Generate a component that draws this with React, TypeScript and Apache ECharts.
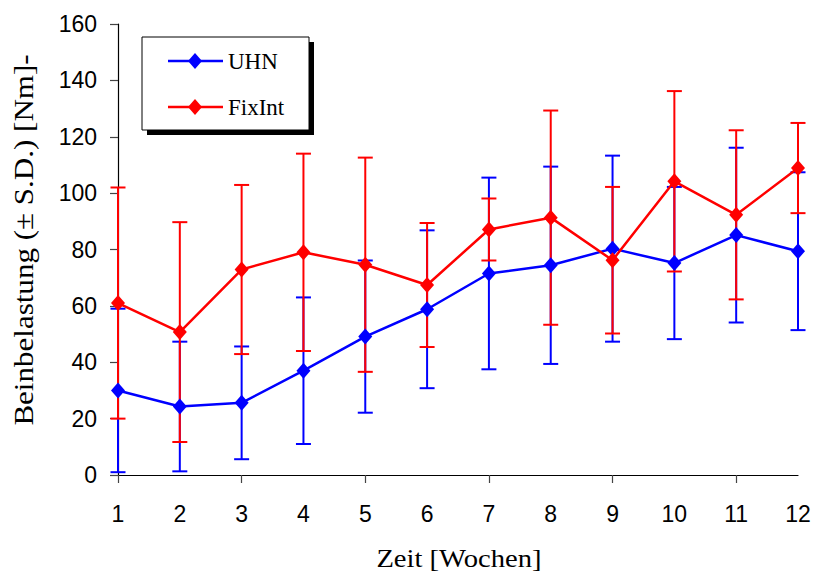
import React, { useEffect, useRef } from "react";
import * as echarts from "echarts";

const weeks = ["1", "2", "3", "4", "5", "6", "7", "8", "9", "10", "11", "12"];
const uhnMean = [30, 24.3, 25.6, 37, 49.1, 58.8, 71.5, 74.4, 80.3, 75.2, 85.1, 79.4];
const uhnSD = [29, 23, 20, 26, 27, 28, 34, 35, 33, 27, 31, 28];
const fixMean = [61, 50.7, 72.9, 79, 74.6, 67.4, 87.1, 91.3, 76.2, 104.2, 92.3, 108.9];
const fixSD = [41, 39, 30, 35, 38, 22, 11, 38, 26, 32, 30, 16];
const seriesNames = ["UHN", "FixInt"];
const colors = ["#0000FF", "#FF0000"];
const xTitle = "Zeit [Wochen]";
const yTitle = "Beinbelastung (\u00B1 S.D.) [Nm]-";

const SERIF = "'Liberation Serif', 'Times New Roman', serif";
const SANS = "'Liberation Sans', Arial, sans-serif";

function errorSeries(means: number[], sds: number[], color: string) {
  return {
    type: "custom",
    silent: true,
    data: means.map((m, i) => [i, m - sds[i], m + sds[i]]),
    renderItem: (params: any, api: any) => {
      const x = api.value(0);
      const lo = api.coord([x, api.value(1)]);
      const hi = api.coord([x, api.value(2)]);
      const hw = 7.5;
      const style = { stroke: color, lineWidth: 2 };
      return {
        type: "group",
        children: [
          { type: "line", shape: { x1: lo[0], y1: lo[1], x2: hi[0], y2: hi[1] }, style },
          { type: "line", shape: { x1: lo[0] - hw, y1: lo[1], x2: lo[0] + hw, y2: lo[1] }, style },
          { type: "line", shape: { x1: hi[0] - hw, y1: hi[1], x2: hi[0] + hw, y2: hi[1] }, style },
        ],
      };
    },
  };
}

function lineSeries(name: string, means: number[], color: string) {
  return {
    type: "line",
    name,
    data: means,
    symbol: "diamond",
    symbolSize: [14, 16],
    lineStyle: { color, width: 2.5 },
    itemStyle: { color },
  };
}

function legendItem(name: string, color: string, y: number) {
  return [
    { type: "line", shape: { x1: 168, y1: y, x2: 223, y2: y }, style: { stroke: color, lineWidth: 2.5 }, z: 102 },
    {
      type: "polygon",
      shape: { points: [[195, y - 8], [202, y], [195, y + 8], [188, y]] },
      style: { fill: color },
      z: 103,
    },
    {
      type: "text",
      x: 228,
      y: y,
      style: { text: name, fontFamily: SERIF, fontSize: 23, fill: "#000", verticalAlign: "middle", align: "left" },
      z: 103,
    },
  ];
}

export default function App() {
  const ref = useRef<HTMLDivElement>(null);
  useEffect(() => {
    if (!ref.current) return;
    const chart = echarts.init(ref.current, null, { renderer: "svg" });
    chart.setOption({
      animation: false,
      backgroundColor: "#fff",
      grid: { left: 118, right: 18, top: 24, bottom: 98, containLabel: false },
      xAxis: {
        type: "category",
        data: weeks,
        boundaryGap: false,
        axisLine: { lineStyle: { color: "#000", width: 1.2 } },
        axisTick: {
          inside: false,
          length: 8,
          interval: (index: number) => index % 2 === 0,
          lineStyle: { color: "#444", width: 1.2 },
        },
        axisLabel: { interval: 0, margin: 27, fontFamily: SANS, fontSize: 23, color: "#000" },
        splitLine: { show: false },
      },
      yAxis: {
        type: "value",
        min: 0,
        max: 160,
        interval: 20,
        axisLine: { show: true, lineStyle: { color: "#000", width: 1.2 } },
        axisTick: { show: true, inside: false, length: 8, lineStyle: { color: "#444", width: 1.2 } },
        axisLabel: { margin: 21, fontFamily: SANS, fontSize: 23, color: "#000" },
        splitLine: { show: false },
      },
      series: [
        errorSeries(uhnMean, uhnSD, colors[0]),
        lineSeries(seriesNames[0], uhnMean, colors[0]),
        errorSeries(fixMean, fixSD, colors[1]),
        lineSeries(seriesNames[1], fixMean, colors[1]),
      ],
      graphic: [
        { type: "rect", shape: { x: 147, y: 42, width: 167, height: 93 }, style: { fill: "#000" }, z: 100 },
        { type: "rect", shape: { x: 142, y: 37, width: 167, height: 93 }, style: { fill: "#fff", stroke: "#000", lineWidth: 1 }, z: 101 },
        ...legendItem(seriesNames[0], colors[0], 61),
        ...legendItem(seriesNames[1], colors[1], 107),
        {
          type: "text",
          x: 459,
          y: 558,
          scaleX: 1.1,
          style: { text: xTitle, fontFamily: SERIF, fontSize: 26, fill: "#000", align: "center", verticalAlign: "middle" },
        },
        {
          type: "text",
          x: 24,
          y: 240,
          rotation: Math.PI / 2,
          scaleX: 1.15,
          style: { text: yTitle, fontFamily: SERIF, fontSize: 27, fill: "#000", align: "center", verticalAlign: "middle" },
        },
      ],
    });
    return () => chart.dispose();
  }, []);
  return <div ref={ref} style={{ position: "fixed", left: 0, top: 0, width: 816, height: 573 }} />;
}
